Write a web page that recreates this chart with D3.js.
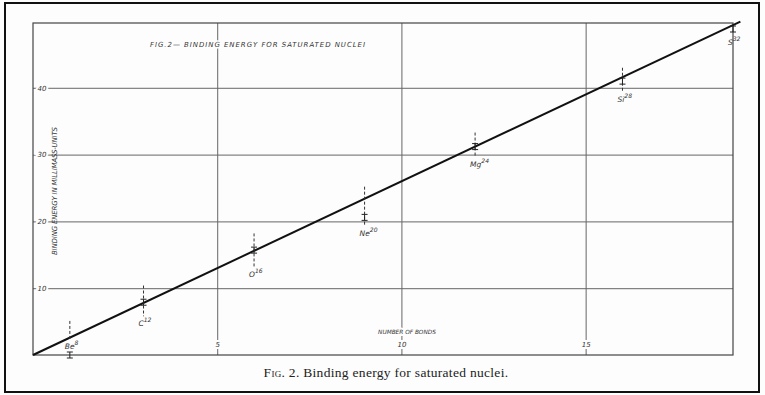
<!DOCTYPE html>
<html>
<head>
<meta charset="utf-8">
<script src="https://cdn.jsdelivr.net/npm/d3@7"></script>
<style>
  body { margin: 0; background: #fff; }
  svg { display: block; }
  .hand { font-family: "DejaVu Sans", sans-serif; font-style: italic; fill: #333; }
  .grid line { stroke: #666; stroke-width: 1; }
  .grid path { display: none; }
  .grid text { font-family: "DejaVu Sans", sans-serif; font-style: italic; font-size: 7px; fill: #333;
               stroke: #fdfdfd; stroke-width: 4px; paint-order: stroke; }
</style>
</head>
<body>
<div id="chart"></div>
<script>
// nuclei, number of bonds, measured binding energy (millimass units)
var elements = ["Be", "C", "O", "Ne", "Mg", "Si", "S"];
var massNumbers = [8, 12, 16, 20, 24, 28, 32];
var bonds = [1, 3, 6, 9, 12, 16, 19];
var energy = [0, 7.9, 15.7, 20.6, 31.2, 41.0, 48.8];
// dashed uncertainty ranges (low, high)
var rangeLow = [2.4, 5.8, 13.1, 19.3, 29.7, 39.4, null];
var rangeHigh = [5.1, 10.4, 18.2, 25.2, 33.3, 43.0, null];
// fitted straight line
var fitBonds = [0, 19.2];
var fitEnergy = [0, 49.9];
var xTicks = [5, 10, 15];
var yTicks = [10, 20, 30, 40];

var W = 765, H = 395;
var svg = d3.select("#chart").append("svg")
  .attr("width", W)
  .attr("height", H);

svg.append("rect").attr("width", W).attr("height", H).attr("fill", "#fdfdfd");
// outer frame of the scan
svg.append("rect")
  .attr("x", 5).attr("y", 3).attr("width", 754).attr("height", 389)
  .attr("fill", "none").attr("stroke", "#111").attr("stroke-width", 2);

var pl = 33, pt = 23, pr = 733, pb = 355;
var x = d3.scaleLinear().domain([0, 19]).range([pl, pr]);
var y = d3.scaleLinear().domain([0, 49.7]).range([pb, pt]);

// grid lines with labels sitting on them
var gx = svg.append("g").attr("class", "grid")
  .attr("transform", "translate(0," + pb + ")")
  .call(d3.axisBottom(x).tickValues(xTicks).tickSize(-(pb - pt)).tickPadding(-13));
gx.selectAll("text").attr("dy", "0.71em");

var gy = svg.append("g").attr("class", "grid")
  .attr("transform", "translate(" + pl + ",0)")
  .call(d3.axisLeft(y).tickValues(yTicks).tickSize(-(pr - pl)).tickPadding(-9));
gy.selectAll("text").attr("text-anchor", "middle");

// plot frame
svg.append("rect")
  .attr("x", pl).attr("y", pt).attr("width", pr - pl).attr("height", pb - pt)
  .attr("fill", "none").attr("stroke", "#444").attr("stroke-width", 1.2);

// texts inside the drawing
svg.append("text").attr("class", "hand")
  .attr("x", 150).attr("y", 47).attr("font-size", 7)
  .attr("textLength", 215).attr("lengthAdjust", "spacing")
  .style("stroke", "#fdfdfd").style("stroke-width", 3).style("paint-order", "stroke")
  .text("FIG.2\u2014 BINDING   ENERGY FOR SATURATED NUCLEI");

svg.append("text").attr("class", "hand")
  .attr("transform", "translate(57,191) rotate(-90)")
  .attr("text-anchor", "middle").attr("font-size", 7)
  .attr("textLength", 128).attr("lengthAdjust", "spacing")
  .text("BINDING ENERGY IN MILLIMASS-UNITS");

svg.append("text").attr("class", "hand")
  .attr("x", 407).attr("y", 334).attr("text-anchor", "middle").attr("font-size", 5.8)
  .style("stroke", "#fdfdfd").style("stroke-width", 4).style("paint-order", "stroke")
  .text("NUMBER OF BONDS");

// fitted line
var line = d3.line().x(function(d) { return x(d[0]); }).y(function(d) { return y(d[1]); });
svg.append("path")
  .datum(d3.zip(fitBonds, fitEnergy))
  .attr("d", line)
  .attr("fill", "none").attr("stroke", "#111").attr("stroke-width", 2);

var pts = bonds.map(function(b, i) {
  return { b: b, e: energy[i], lo: rangeLow[i], hi: rangeHigh[i], el: elements[i], a: massNumbers[i] };
});

// dashed ranges
svg.selectAll(".range")
  .data(pts.filter(function(d) { return d.lo != null; }))
  .enter().append("line").attr("class", "range")
  .attr("x1", function(d) { return x(d.b); }).attr("x2", function(d) { return x(d.b); })
  .attr("y1", function(d) { return y(d.hi); }).attr("y2", function(d) { return y(d.lo); })
  .attr("stroke", "#333").attr("stroke-width", 1).attr("stroke-dasharray", "3,2");

// I-shaped markers
var mk = svg.selectAll(".mark").data(pts).enter().append("g").attr("class", "mark")
  .attr("transform", function(d) { return "translate(" + x(d.b) + "," + y(d.e) + ")"; });
mk.append("path")
  .attr("d", "M-3,-3H3M0,-3V3M-3,3H3")
  .attr("fill", "none").attr("stroke", "#222").attr("stroke-width", 1);

// nucleus labels
var lab = svg.selectAll(".lab").data(pts).enter().append("text").attr("class", "hand lab")
  .attr("x", function(d) { return x(d.b) - 5; })
  .attr("y", function(d) { return d.lo != null ? y(d.lo) + 10 : y(d.e) + 16; })
  .attr("font-size", 7.5);
lab.append("tspan").text(function(d) { return d.el; });
lab.append("tspan").attr("dy", -4).attr("font-size", 6).text(function(d) { return d.a; });

// printed caption
var cap = svg.append("text")
  .attr("x", 386).attr("y", 377).attr("text-anchor", "middle")
  .attr("font-family", "Liberation Serif, serif").attr("font-size", 13.5).attr("fill", "#222")
  .attr("letter-spacing", 0.3);
cap.append("tspan").style("font-variant", "small-caps").text("Fig");
cap.append("tspan").text(". 2. Binding energy for saturated nuclei.");
</script>
</body>
</html>
